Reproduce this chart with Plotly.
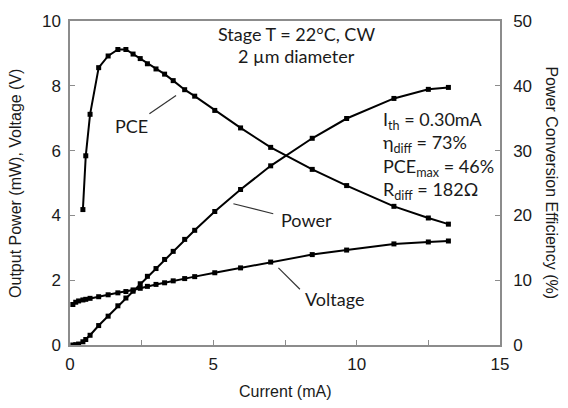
import plotly.graph_objects as go

# Measured L-I-V characteristics of a 2 µm VCSEL (stage 22 °C, CW)
current_ma = [0.1, 0.2, 0.3, 0.45, 0.55, 0.7, 1.0, 1.33, 1.67, 1.95, 2.2, 2.45, 2.7,
              3.0, 3.3, 3.6, 4.0, 4.35, 5.05, 5.95, 7.0, 8.45, 9.65, 11.3, 12.5, 13.2]
power_mw = [0.0, 0.01, 0.03, 0.10, 0.17, 0.30, 0.60, 0.89, 1.21, 1.45, 1.66, 1.89, 2.12,
            2.36, 2.64, 2.89, 3.26, 3.54, 4.12, 4.80, 5.53, 6.38, 6.99, 7.61, 7.89, 7.95]
voltage_v = [1.25, 1.32, 1.36, 1.39, 1.41, 1.44, 1.49, 1.55, 1.61, 1.65, 1.70, 1.75, 1.81,
             1.87, 1.92, 1.98, 2.05, 2.11, 2.23, 2.38, 2.56, 2.79, 2.93, 3.12, 3.18, 3.21]
# PCE is only reported above threshold
pce_current_ma = current_ma[3:]
pce_pct = [20.9, 29.2, 35.6, 42.8, 44.6, 45.6, 45.6, 44.9, 44.2, 43.4,
           42.6, 41.8, 40.8, 39.4, 38.4, 36.2, 33.5, 30.5, 27.1, 24.6, 21.4, 19.6, 18.65]

x_ticks = [0, 5, 10, 15]
left_ticks = [0, 2, 4, 6, 8, 10]
right_ticks = [0, 10, 20, 30, 40, 50]

TEXT_FONT = "Lato"
AXIS_FONT = "Liberation Sans"
INK = "#1a1a1a"
AXIS_GRAY = "#8c8c8c"

line_style = dict(color="black", width=2)
marker_style = dict(symbol="square", size=5, color="black")

fig = go.Figure()
fig.add_trace(go.Scatter(x=current_ma, y=power_mw, mode="lines+markers",
                         line=line_style, marker=marker_style, name="Power"))
fig.add_trace(go.Scatter(x=current_ma, y=voltage_v, mode="lines+markers",
                         line=line_style, marker=marker_style, name="Voltage"))
fig.add_trace(go.Scatter(x=pce_current_ma, y=pce_pct, mode="lines+markers",
                         line=line_style, marker=marker_style, name="PCE", yaxis="y2"))

# Curve labels with short leader lines (data coordinates, left axis)
labels = [
    ("PCE", 2.13, 6.75, (2.77, 7.14, 3.70, 7.70)),
    ("Power", 8.25, 3.86, (5.70, 4.36, 7.09, 4.05)),
    ("Voltage", 9.24, 1.43, (7.27, 2.38, 8.02, 1.72)),
]
annotations = []
shapes = []
for text, tx, ty, (x0, y0, x1, y1) in labels:
    annotations.append(dict(x=tx, y=ty, xref="x", yref="y", text=text, showarrow=False,
                            font=dict(family=TEXT_FONT, size=18, color=INK)))
    shapes.append(dict(type="line", xref="x", yref="y", x0=x0, y0=y0, x1=x1, y1=y1,
                       line=dict(color="#333333", width=1.2)))

for text, ty in [("Stage T = 22°C, CW", 9.60), ("2 µm diameter", 8.92)]:
    annotations.append(dict(x=7.91, y=ty, xref="x", yref="y", text=text, showarrow=False,
                            font=dict(family=TEXT_FONT, size=18, color=INK)))

# Device parameter block
params = [
    "I<sub>th</sub> = 0.30mA",
    "η<sub>diff</sub> = 73%",
    "PCE<sub>max</sub> = 46%",
    "R<sub>diff</sub> = 182Ω",
]
annotations.append(dict(x=10.85, y=5.85, xref="x", yref="y", text="<br>".join(params),
                        showarrow=False, xanchor="left", yanchor="middle", align="left",
                        font=dict(family=TEXT_FONT, size=18, color=INK)))

# Axis titles
annotations.append(dict(x=0.5, y=-0.11, xref="paper", yref="paper", text="Current (mA)",
                        showarrow=False, yanchor="top",
                        font=dict(family=AXIS_FONT, size=16, color=INK)))
annotations.append(dict(x=-0.128, y=0.5, xref="paper", yref="paper",
                        text="Output Power (mW), Voltage (V)", textangle=-90,
                        showarrow=False, xanchor="center",
                        font=dict(family=AXIS_FONT, size=16, color=INK)))
annotations.append(dict(x=1.12, y=0.5, xref="paper", yref="paper",
                        text="Power Conversion Efficiency (%)", textangle=90,
                        showarrow=False, xanchor="center",
                        font=dict(family=AXIS_FONT, size=16, color=INK)))

fig.update_layout(
    width=568, height=408,
    margin=dict(l=70, r=68, t=16, b=63),
    paper_bgcolor="white", plot_bgcolor="white",
    showlegend=False,
    annotations=annotations,
    shapes=shapes,
    xaxis=dict(range=[0, 15], tickvals=x_ticks, ticks="inside", ticklen=5,
               tickcolor=AXIS_GRAY, showline=True, linecolor=AXIS_GRAY, linewidth=1.5,
               mirror=True, showgrid=False, zeroline=False, ticklabelstandoff=3,
               minor=dict(dtick=2.5, ticks="inside", ticklen=5, tickcolor=AXIS_GRAY),
               tickfont=dict(family=AXIS_FONT, size=17, color=INK)),
    yaxis=dict(range=[0, 10], tickvals=left_ticks, ticks="inside", ticklen=5,
               tickcolor=AXIS_GRAY, showline=True, linecolor=AXIS_GRAY, linewidth=1.5,
               showgrid=False, zeroline=False, ticklabelstandoff=4,
               tickfont=dict(family=AXIS_FONT, size=17, color=INK)),
    yaxis2=dict(range=[0, 50], tickvals=right_ticks, ticks="inside", ticklen=5,
                tickcolor=AXIS_GRAY, showline=True, linecolor=AXIS_GRAY, linewidth=1.5,
                overlaying="y", side="right", showgrid=False, zeroline=False,
                ticklabelstandoff=8,
                tickfont=dict(family=AXIS_FONT, size=17, color=INK)),
)

fig.write_html("out.html")
